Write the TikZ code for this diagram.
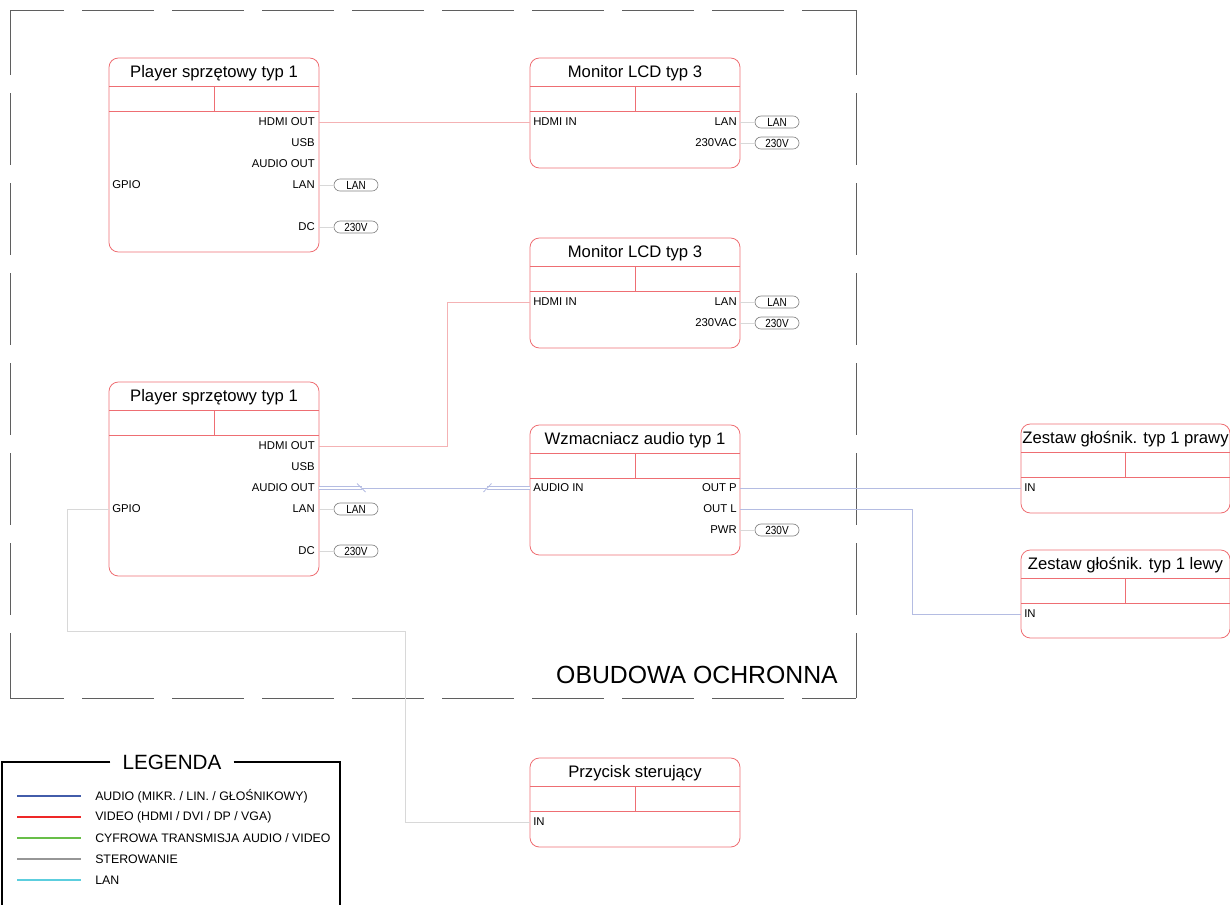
\documentclass[tikz,border=0pt]{standalone}
\usepackage{fontspec}
\setmainfont{Liberation Sans}
\newfontfamily\narrowfont[FakeStretch=0.85]{Liberation Sans}
\usetikzlibrary{calc}

\definecolor{boxred}{RGB}{238,110,115}
\definecolor{videoline}{RGB}{244,178,180}
\definecolor{audioline}{RGB}{180,188,226}
\definecolor{ctlline}{RGB}{216,216,216}
\definecolor{pillgrey}{RGB}{130,130,130}
\definecolor{enclgrey}{RGB}{95,95,95}
\definecolor{legblue}{RGB}{66,92,170}
\definecolor{legred}{RGB}{238,40,40}
\definecolor{leggreen}{RGB}{104,190,72}
\definecolor{leggrey}{RGB}{150,150,150}
\definecolor{legcyan}{RGB}{92,206,222}

\tikzset{
  dev/.style={draw=boxred, line width=0.6pt, rounded corners=7pt, anchor=north west,
    inner sep=0pt, outer sep=0pt, minimum width=157.5pt},
  devline/.style={boxred, line width=0.6pt},
  devtitle/.style={font=\fontsize{12.5}{14}\selectfont, inner sep=0pt},
  portr/.style={anchor=east, inner sep=0pt, font=\fontsize{8.5}{10}\selectfont},
  portl/.style={anchor=west, inner sep=0pt, font=\fontsize{8.5}{10}\selectfont},
  pill/.style={draw=pillgrey, line width=0.5pt, rounded corners=4.5pt, minimum width=33pt,
    minimum height=9pt, inner sep=0pt, font=\narrowfont\fontsize{8.8}{10}\selectfont},
  video/.style={videoline, line width=0.6pt},
  audio/.style={audioline, line width=0.6pt},
  ctl/.style={ctlline, line width=0.6pt},
  encl/.style={enclgrey, line width=0.7pt},
  legframe/.style={black, line width=1.4pt},
  legtext/.style={anchor=west, inner sep=0pt, font=\fontsize{9.25}{11}\selectfont}
}

\begin{document}
\begin{tikzpicture}[x=0.75pt, y=-0.75pt]
  \useasboundingbox (0,0) rectangle (1230,904);

  % obudowa
  \draw[encl, dash pattern=on 54pt off 13.5pt, dash phase=13.5pt] (10,10) -- (856,10);
  \draw[encl, dash pattern=on 54pt off 13.5pt, dash phase=13.5pt] (10,698) -- (856,698);
  \draw[encl, dash pattern=on 54pt off 13.5pt, dash phase=5.25pt] (10,10) -- (10,698);
  \draw[encl, dash pattern=on 54pt off 13.5pt, dash phase=5.25pt] (856,10) -- (856,698);
  \node[anchor=east, inner sep=0pt, font=\fontsize{18.6}{21}\selectfont] (encl) at (838,675) {OBUDOWA OCHRONNA};

  % urzadzenia
  \node[dev, minimum height=145.5pt] (p1) at (109,58) {};
  \node[dev, minimum height=145.5pt] (p2) at (109,382) {};
  \node[dev, minimum height=82.5pt] (m1) at (530,58) {};
  \node[dev, minimum height=82.5pt] (m2) at (530,238) {};
  \node[dev, minimum height=97.5pt] (amp) at (530,425) {};
  \node[dev, minimum height=66.75pt, minimum width=156.75pt] (spkp) at (1021,424) {};
  \node[dev, minimum height=66pt, minimum width=156.75pt] (spkl) at (1021,550) {};
  \node[dev, minimum height=66.75pt] (btn) at (530,758) {};

  \foreach \b/\t in {p1/Player sprzętowy typ 1, p2/Player sprzętowy typ 1,
      m1/Monitor LCD typ 3, m2/Monitor LCD typ 3, amp/Wzmacniacz audio typ 1,
      spkp/Zestaw głośnik. typ 1 prawy, spkl/Zestaw głośnik. typ 1 lewy,
      btn/Przycisk sterujący} {
    \draw[devline] ($(\b.north west)+(0,28.5)$) -- ($(\b.north east)+(0,28.5)$);
    \draw[devline] ($(\b.north west)+(0,53)$) -- ($(\b.north east)+(0,53)$);
    \draw[devline] ($(\b.north)+(0,28.5)$) -- ($(\b.north)+(0,53)$);
    \node[devtitle] (\b-title) at ($(\b.north)+(0,15)$) {\t};
  }

  % porty player 1
  \node[portr] (p1-hdmi) at (315,122) {HDMI OUT};
  \node[portr] (p1-usb) at (315,143) {USB};
  \node[portr] (p1-aout) at (315,164) {AUDIO OUT};
  \node[portr] (p1-lan) at (315,185) {LAN};
  \node[portr] (p1-dc) at (315,227) {DC};
  \node[portl] (p1-gpio) at (112,185) {GPIO};
  \node[pill] (p1-lanpill) at (356,185) {LAN};
  \node[pill] (p1-dcpill) at (356,227) {230V};

  % porty player 2
  \node[portr] (p2-hdmi) at (315,446) {HDMI OUT};
  \node[portr] (p2-usb) at (315,467) {USB};
  \node[portr] (p2-aout) at (315,488) {AUDIO OUT};
  \node[portr] (p2-lan) at (315,509) {LAN};
  \node[portr] (p2-dc) at (315,551) {DC};
  \node[portl] (p2-gpio) at (112,509) {GPIO};
  \node[pill] (p2-lanpill) at (356,509) {LAN};
  \node[pill] (p2-dcpill) at (356,551) {230V};

  % porty monitory
  \node[portl] (m1-hdmi) at (533,122) {HDMI IN};
  \node[portr] (m1-lan) at (737,122) {LAN};
  \node[portr] (m1-pwr) at (737,143) {230VAC};
  \node[pill] (m1-lanpill) at (777,122) {LAN};
  \node[pill] (m1-pwrpill) at (777,143) {230V};
  \node[portl] (m2-hdmi) at (533,302) {HDMI IN};
  \node[portr] (m2-lan) at (737,302) {LAN};
  \node[portr] (m2-pwr) at (737,323) {230VAC};
  \node[pill] (m2-lanpill) at (777,302) {LAN};
  \node[pill] (m2-pwrpill) at (777,323) {230V};

  % porty wzmacniacz, glosniki, przycisk
  \node[portl] (amp-ain) at (533,488) {AUDIO IN};
  \node[portr] (amp-outp) at (737,488) {OUT P};
  \node[portr] (amp-outl) at (737,509) {OUT L};
  \node[portr] (amp-pwr) at (737,530) {PWR};
  \node[pill] (amp-pwrpill) at (777,530) {230V};
  \node[portl] (spkp-in) at (1024,488) {IN};
  \node[portl] (spkl-in) at (1024,614) {IN};
  \node[portl] (btn-in) at (533,822) {IN};

  % zasilanie i LAN
  \draw[ctl] (p1-lan -| p1.east) -- (p1-lanpill.west);
  \draw[ctl] (p1-dc -| p1.east) -- (p1-dcpill.west);
  \draw[ctl] (p2-lan -| p2.east) -- (p2-lanpill.west);
  \draw[ctl] (p2-dc -| p2.east) -- (p2-dcpill.west);
  \draw[ctl] (m1-lan -| m1.east) -- (m1-lanpill.west);
  \draw[ctl] (m1-pwr -| m1.east) -- (m1-pwrpill.west);
  \draw[ctl] (m2-lan -| m2.east) -- (m2-lanpill.west);
  \draw[ctl] (m2-pwr -| m2.east) -- (m2-pwrpill.west);
  \draw[ctl] (amp-pwr -| amp.east) -- (amp-pwrpill.west);

  % video
  \draw[video] (p1-hdmi -| p1.east) -- (m1-hdmi -| m1.west);
  \draw[video] (p2-hdmi -| p2.east) -| (447,302) -- (m2-hdmi -| m2.west);

  % audio
  \coordinate (audbrk1) at (362,488);
  \coordinate (audbrk2) at (487,488);
  \draw[audio, double, double distance=2.2pt] (p2-aout -| p2.east) -- (audbrk1);
  \draw[audio] (audbrk1) -- (audbrk2);
  \draw[audio, double, double distance=2.2pt] (audbrk2) -- (amp-ain -| amp.west);
  \draw[audio] ($(audbrk1)+(-5,-4.5)$) -- ($(audbrk1)+(3.5,4)$);
  \draw[audio] ($(audbrk2)+(4.5,-4.5)$) -- ($(audbrk2)+(-3.5,4)$);
  \draw[audio] (amp-outp -| amp.east) -- (spkp-in -| spkp.west);
  \draw[audio] (amp-outl -| amp.east) -| (912,614) -- (spkl-in -| spkl.west);

  % sterowanie
  \draw[ctl] (p2-gpio -| p2.west) -| (67,631) -| (405,822) -- (btn-in -| btn.west);

  % legenda
  \node[inner xsep=9pt, inner ysep=0pt, font=\fontsize{15.5}{17}\selectfont] (legtitle) at (172,762) {LEGENDA};
  \draw[legframe] (legtitle.west) -- (2,762) -- (2,910);
  \draw[legframe] (legtitle.east) -- (340,762) -- (340,910);
  \foreach \c/\t [count=\i] in {legblue/{AUDIO (MIKR. / LIN. / GŁOŚNIKOWY)},
      legred/{VIDEO (HDMI / DVI / DP / VGA)}, leggreen/{CYFROWA TRANSMISJA AUDIO / VIDEO},
      leggrey/{STEROWANIE}, legcyan/{LAN}} {
    \draw[\c, line width=1.5pt] (17,775+21*\i) -- (81,775+21*\i);
    \node[legtext] (leg\i) at (95,775+21*\i) {\t};
  }

\end{tikzpicture}
\end{document}
